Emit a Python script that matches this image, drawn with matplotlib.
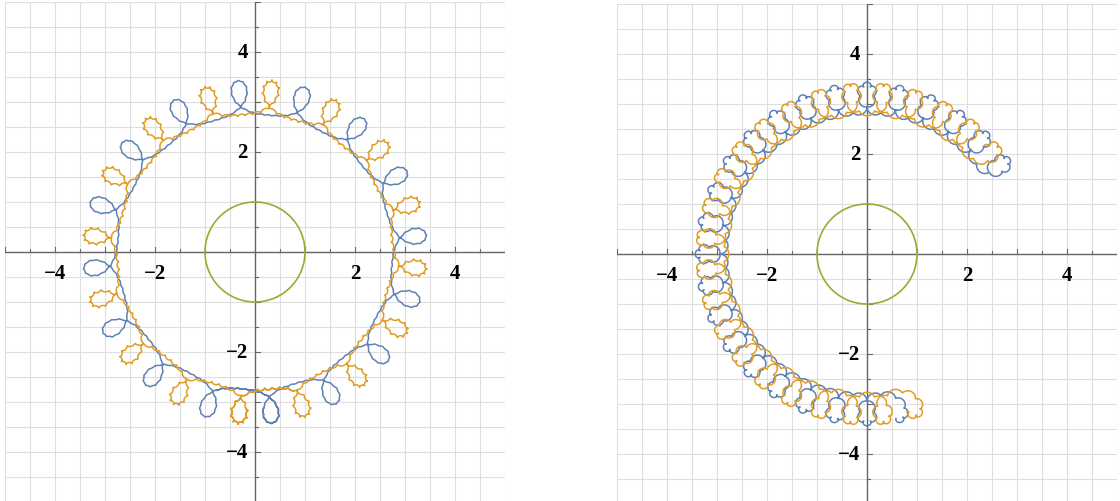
import numpy as np
import matplotlib.pyplot as plt

# epicycle terms for each curve: radius, angular frequency, phase
left_blue_r = [3.025, 0.345, 0.07, 0.008]
left_blue_k = [1, -15, -31, 257]
left_blue_ph = [0.0, np.pi / 2, np.pi, 0.0]

left_orange_r = [3.025, 0.345, 0.07, 0.020]
left_orange_k = [1, -15, -31, 257]
left_orange_ph = [0.0, -np.pi / 2, np.pi, 0.0]

right_blue_r = [3.10, 0.30, 0.036]
right_blue_k = [1, -31, -255]
right_blue_ph = [0.0, 0.0, 0.0]

right_orange_r = [3.10, 0.30, 0.036]
right_orange_k = [1, -31, -255]
right_orange_ph = [0.0, np.pi, np.pi]

# parameter ranges (degrees)
left_t = [-100, 280]
right_blue_t = [30, 282]
right_orange_t = [37, 289]

ref_radius = 1.0
tick_vals = [-4, -2, 2, 4]
tick_text = ['\u22124', '\u22122', '2', '4']

blue = '#5E81B5'
orange = '#E19C24'
green = '#8FB032'


def epicycles(r, k, ph, t_deg):
    t = np.linspace(np.radians(t_deg[0]), np.radians(t_deg[1]), 60000)
    z = np.zeros_like(t, dtype=complex)
    for ri, ki, pi in zip(r, k, ph):
        z += ri * np.exp(1j * (ki * t + pi))
    return z.real, z.imag


def setup(ax):
    ax.set_xlim(-5, 5)
    ax.set_ylim(-5, 5)
    ax.set_aspect('equal')
    for s in ax.spines.values():
        s.set_visible(False)
    ax.set_xticks([])
    ax.set_yticks([])
    g = np.arange(-5, 5.01, 0.5)
    for v in g:
        ax.axvline(v, color='#dedede', lw=0.8, zorder=0)
        ax.axhline(v, color='#dedede', lw=0.8, zorder=0)
    ax.axhline(0, color='#666666', lw=1.0, zorder=1)
    ax.axvline(0, color='#666666', lw=1.0, zorder=1)
    # small ticks along both axes
    for v in g:
        if abs(v) < 1e-9:
            continue
        h = 0.1 if abs(v - round(v)) < 1e-9 else 0.06
        ax.plot([v, v], [0, h], color='#666666', lw=0.8, zorder=1)
        ax.plot([0, h], [v, v], color='#666666', lw=0.8, zorder=1)
    for v, s in zip(tick_vals, tick_text):
        ax.text(v, -0.22, s, ha='center', va='top', fontsize=15,
                fontweight='bold', family='Liberation Serif')
        ax.text(-0.14, v, s, ha='right', va='center', fontsize=15,
                fontweight='bold', family='Liberation Serif')
    a = np.linspace(0, 2 * np.pi, 400)
    ax.plot(ref_radius * np.cos(a), ref_radius * np.sin(a), color=green,
            lw=1.2, zorder=4)


fig = plt.figure(figsize=(11.2, 5.02), dpi=100)
ax1 = fig.add_axes([5 / 1120, -1 / 502, 500 / 1120, 500 / 502])
ax2 = fig.add_axes([617 / 1120, -3 / 502, 500 / 1120, 500 / 502])

setup(ax1)
setup(ax2)

ax1.plot(*epicycles(left_blue_r, left_blue_k, left_blue_ph, left_t),
         color=blue, lw=1.1, zorder=2)
ax1.plot(*epicycles(left_orange_r, left_orange_k, left_orange_ph, left_t),
         color=orange, lw=1.1, zorder=3)

ax2.plot(*epicycles(right_blue_r, right_blue_k, right_blue_ph, right_blue_t),
         color=blue, lw=1.1, zorder=2)
ax2.plot(*epicycles(right_orange_r, right_orange_k, right_orange_ph, right_orange_t),
         color=orange, lw=1.1, zorder=3)

fig.savefig('out.png', dpi=100)
